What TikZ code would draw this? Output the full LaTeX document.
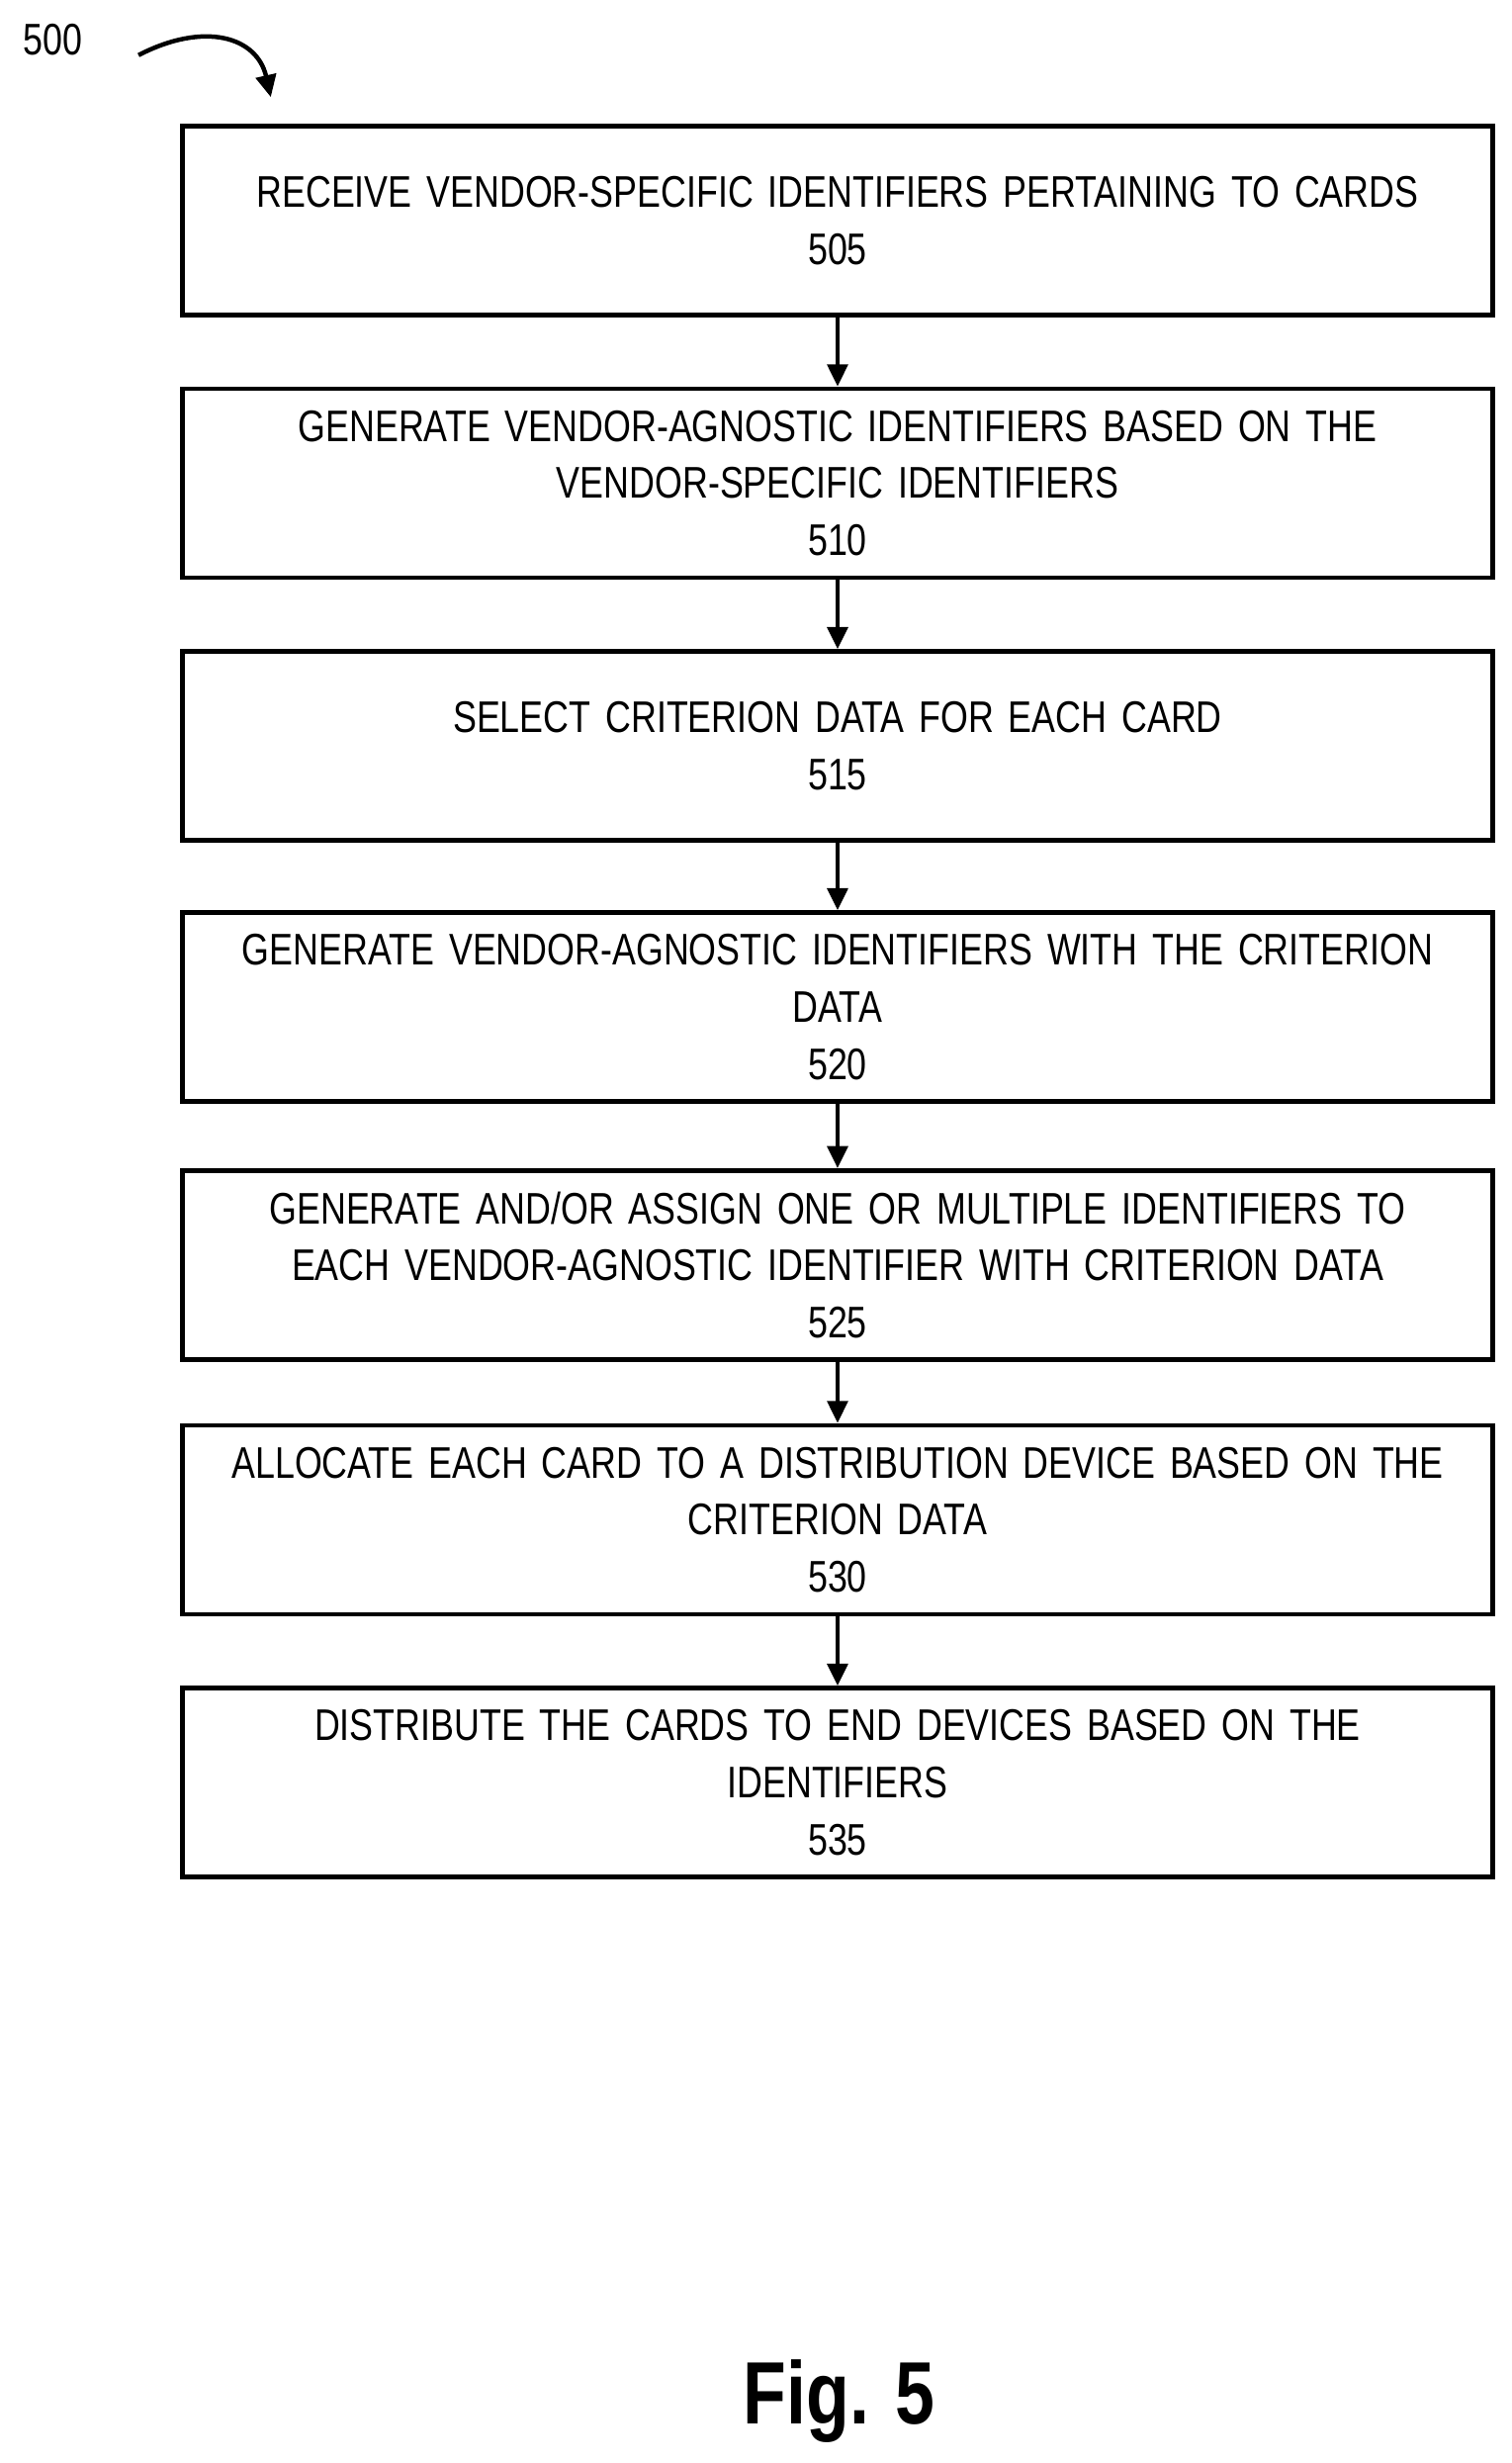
\documentclass[tikz,border=0pt]{standalone}
\usepackage{fontspec}
\setmainfont{Liberation Sans}
\newfontfamily\narrowfont[FakeStretch=0.8]{Liberation Sans}
\usetikzlibrary{positioning,arrows.meta}
\begin{document}
\begin{tikzpicture}[node distance=1.3cm, font=\narrowfont\fontsize{24}{31}\selectfont]
        \tikzstyle{arrow} = [line width=2.4pt,-{Triangle[length=12pt,width=11pt]}]
        \tikzstyle{stepbox} = [rectangle, minimum width=24.96cm, minimum height=3.6cm, text width=24cm, align=center, line width=2.4pt, draw=black]
        \useasboundingbox (0,0) rectangle (28.8,-46.92);
        \node (lbl) at (1.0,-0.75) {500};
        \node (s505) [stepbox] at (15.96,-4.2) {RECEIVE VENDOR-SPECIFIC IDENTIFIERS PERTAINING TO CARDS\\505};
        \node (s510) [stepbox, below=1.32cm of s505] {GENERATE VENDOR-AGNOSTIC IDENTIFIERS BASED ON THE\\VENDOR-SPECIFIC IDENTIFIERS\\510};
        \node (s515) [stepbox, below=1.32cm of s510] {SELECT CRITERION DATA FOR EACH CARD\\515};
        \node (s520) [stepbox, below=1.29cm of s515] {GENERATE VENDOR-AGNOSTIC IDENTIFIERS WITH THE CRITERION\\DATA\\520};
        \node (s525) [stepbox, below=1.23cm of s520] {GENERATE AND/OR ASSIGN ONE OR MULTIPLE IDENTIFIERS TO\\EACH VENDOR-AGNOSTIC IDENTIFIER WITH CRITERION DATA\\525};
        \node (s530) [stepbox, below=1.17cm of s525] {ALLOCATE EACH CARD TO A DISTRIBUTION DEVICE BASED ON THE\\CRITERION DATA\\530};
        \node (s535) [stepbox, below=1.32cm of s530] {DISTRIBUTE THE CARDS TO END DEVICES BASED ON THE\\IDENTIFIERS\\535};
        \node (fig) at (15.99,-45.75) {\fontsize{48}{52}\selectfont\bfseries Fig. 5};
        \coordinate (c0) at (2.64,-1.05);
        \coordinate (c1) at (5.16,-1.85);

        \draw [arrow] (c0) .. controls (3.9,-0.4) and (4.9,-0.7) .. (c1);
        \draw [arrow] (s505) -- (s510);
        \draw [arrow] (s510) -- (s515);
        \draw [arrow] (s515) -- (s520);
        \draw [arrow] (s520) -- (s525);
        \draw [arrow] (s525) -- (s530);
        \draw [arrow] (s530) -- (s535);

    \end{tikzpicture}
\end{document}
